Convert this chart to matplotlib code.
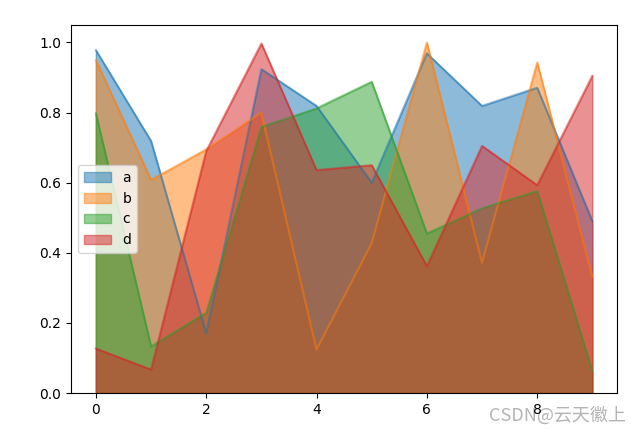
import matplotlib
matplotlib.use("Agg")
import matplotlib.pyplot as plt
import pandas as pd

x = list(range(10))
a = [0.978, 0.719, 0.170, 0.924, 0.819, 0.600, 0.969, 0.819, 0.871, 0.490]
b = [0.950, 0.608, 0.695, 0.800, 0.124, 0.427, 1.000, 0.371, 0.943, 0.331]
c = [0.798, 0.133, 0.229, 0.759, 0.812, 0.888, 0.455, 0.527, 0.576, 0.062]
d = [0.127, 0.067, 0.690, 0.997, 0.636, 0.650, 0.362, 0.705, 0.593, 0.905]

df = pd.DataFrame({"a": a, "b": b, "c": c, "d": d}, index=x)

fig = plt.figure(figsize=(6.41, 4.30), dpi=100)
ax = fig.add_axes([0.1108, 0.086, 0.852, 0.856])
df.plot.area(stacked=False, ax=ax)
ax.set_xlim(-0.45, 9.45)
ax.set_ylim(0, 1.05)
ax.legend(loc="center left")

fig.text(0.976, 0.022, "CSDN@云天徽上", ha="right", va="baseline", fontsize=13,
         color="#b4b4b4", family=["Noto Sans CJK SC", "DejaVu Sans"], zorder=-1)

fig.savefig("out.png", dpi=100)
